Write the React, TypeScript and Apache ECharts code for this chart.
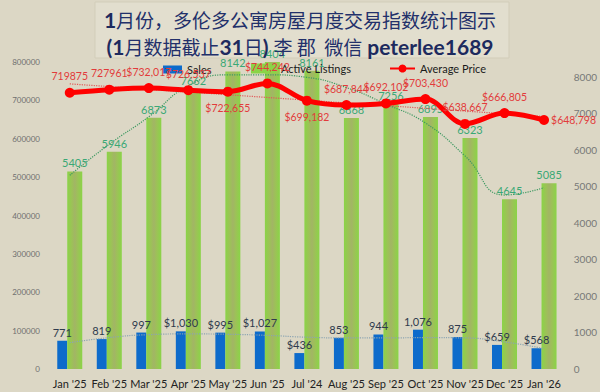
import React, { useEffect, useRef } from "react";
import * as echarts from "echarts";

const categories = ["Jan '25", "Feb '25", "Mar '25", "Apr '25", "May '25", "Jun '25", "Jul '24", "Aug '25", "Sep '25", "Oct '25", "Nov '25", "Dec '25", "Jan '26"];
const sales = [771, 819, 997, 1030, 995, 1027, 436, 853, 944, 1076, 875, 659, 568];
const salesLabels = ["771", "819", "997", "$1,030", "$995", "$1,027", "$436", "853", "944", "1,076", "875", "$659", "$568"];
const listings = [5405, 5946, 6873, 7662, 8142, 8404, 8161, 6868, 7256, 6895, 6323, 4645, 5085];
const prices = [719875, 727961, 732017, 726537, 722655, 744242, 699182, 687844, 692102, 703430, 638667, 666805, 648798];
const priceLabels = ["719875", "727961", "$732,017", "$726,537", "$722,655", "$744,242", "$699,182", "$687,844", "$692,102", "$703,430", "$638,667", "$666,805", "$648,798"];
const priceLabelPos = ["top", "top", "top", "top", "bottom", "top", "bottom", "top", "top", "top", "top", "top", "right"];
const listingTrend = [5300, 6150, 6900, 7750, 8050, 8050, 7980, 7700, 7250, 6730, 5830, 4760, 4960];
const salesTrend = [720, 860, 940, 960, 950, 920, 870, 850, 850, 860, 850, 740, 560];
const priceTrend = [743000, null, null, null, null, null, null, null, null, null, null, null, 658000];
const leftTicks = [0, 800000, 100000];
const rightTicks = [0, 8400, 1000];

export default function App() {
  const ref = useRef<HTMLDivElement>(null);
  useEffect(() => {
    if (!ref.current) return;
    const chart = echarts.init(ref.current, null, { renderer: "svg" });
    const green = new echarts.graphic.LinearGradient(0, 0, 1, 0, [
      { offset: 0, color: "#8ad447" },
      { offset: 0.3, color: "#9cc257" },
      { offset: 0.5, color: "#a2b565" },
      { offset: 0.7, color: "#9cc257" },
      { offset: 1, color: "#8ad447" },
    ]);
    const legendText = { fontSize: 11, color: "#1a1a1a", fontFamily: "Lato" };
    chart.setOption({
      animation: false,
      backgroundColor: "#dcd7c5",
      graphic: [
        {
          type: "rect",
          shape: { x: 95, y: 2, width: 414, height: 56 },
          style: { fill: "#e2dece", stroke: "#d2cdb9", lineWidth: 1 },
          z: -1,
        },
      ],
      title: {
        left: "center",
        top: 1,
        text: "{b|1}{n|月份，多伦多公寓房屋月度交易指数统计图示}\n{b|(1}{n|月数据截止}{b|31}{n|日}{b|)} {n|李 郡  微信} {b|peterlee1689}",
        textStyle: {
          rich: {
            b: { fontFamily: "Lato", fontWeight: "bold", fontSize: 21, color: "#1d2a5e", lineHeight: 27 },
            n: { fontFamily: "Noto Sans CJK SC", fontWeight: "normal", fontSize: 19, color: "#22306a", lineHeight: 27 },
          },
        },
      },
      legend: [
        { left: 158, top: 59, data: [{ name: "Sales", icon: "rect" }], itemWidth: 19, itemHeight: 8, itemGap: 4, textStyle: legendText },
        { left: 246, top: 58, data: [{ name: "Active Listings", icon: "rect", itemStyle: { color: "#8ad447" } }], itemWidth: 25, itemHeight: 10, textStyle: legendText },
        { left: 384, top: 58, data: ["Average Price"], itemWidth: 25, itemHeight: 10, textStyle: legendText },
      ],
      grid: { left: 50, right: 30, top: 62, bottom: 23 },
      xAxis: {
        type: "category",
        data: categories,
        axisLine: { show: false },
        axisTick: { show: false },
        axisLabel: { color: "#222", fontSize: 11, fontFamily: "Lato", margin: 9, interval: 0 },
      },
      yAxis: [
        {
          type: "value",
          min: leftTicks[0],
          max: leftTicks[1],
          interval: leftTicks[2],
          splitLine: { show: false },
          axisLine: { show: false },
          axisTick: { show: false },
          axisLabel: { color: "#6f6f6f", fontSize: 8, fontFamily: "Lato", margin: 10, formatter: (v: number) => String(v) },
        },
        {
          type: "value",
          min: rightTicks[0],
          max: rightTicks[1],
          interval: rightTicks[2],
          splitLine: { show: false },
          axisLine: { show: false },
          axisTick: { show: false },
          axisLabel: {
            color: "#777",
            fontSize: 10,
            fontFamily: "Lato",
            margin: 10,
            formatter: (v: number) => (v % 1000 === 0 ? String(v) : ""),
          },
        },
      ],
      series: [
        {
          name: "Sales",
          type: "bar",
          yAxisIndex: 1,
          data: sales,
          barWidth: 10,
          barGap: "0%",
          itemStyle: { color: "#0d6bcb" },
          label: {
            show: true,
            position: "top",
            distance: 3,
            color: "#2f3b4d",
            fontSize: 11,
            fontFamily: "Lato",
            formatter: (p: any) => salesLabels[p.dataIndex],
          },
          z: 2,
        },
        {
          name: "Active Listings",
          type: "bar",
          yAxisIndex: 1,
          data: listings,
          barWidth: 15,
          itemStyle: { color: green },
          label: { show: true, position: "top", distance: 3, color: "#3aa875", fontSize: 11, fontFamily: "Lato" },
          z: 2,
        },
        {
          name: "listingTrend",
          type: "line",
          yAxisIndex: 1,
          data: listingTrend,
          smooth: 0.5,
          symbol: "none",
          lineStyle: { color: "#3e9a62", width: 1.2, type: "dotted" },
          z: 3,
          silent: true,
        },
        {
          name: "salesTrend",
          type: "line",
          yAxisIndex: 1,
          data: salesTrend,
          smooth: 0.5,
          symbol: "none",
          lineStyle: { color: "#8ba4b2", width: 1.2, type: "dotted" },
          z: 3,
          silent: true,
        },
        {
          name: "priceTrend",
          type: "line",
          yAxisIndex: 0,
          data: priceTrend,
          connectNulls: true,
          symbol: "none",
          lineStyle: { color: "#e05a5a", width: 1.2, type: "dotted" },
          z: 3,
          silent: true,
        },
        {
          name: "Average Price",
          type: "line",
          yAxisIndex: 0,
          data: prices.map((v, i) => ({ value: v, label: { position: priceLabelPos[i], distance: priceLabelPos[i] === "right" ? 2 : 6 } })),
          smooth: 0.35,
          symbol: "circle",
          symbolSize: 10,
          itemStyle: { color: "#ff0000" },
          lineStyle: { color: "#ff0000", width: 5 },
          label: {
            show: true,
            color: "#e23b3b",
            fontSize: 10.5,
            fontFamily: "Lato",
            formatter: (p: any) => priceLabels[p.dataIndex],
          },
          z: 5,
        },
      ],
    });
    return () => chart.dispose();
  }, []);
  return <div ref={ref} style={{ width: 600, height: 392, position: "fixed", left: 0, top: 0 }} />;
}
